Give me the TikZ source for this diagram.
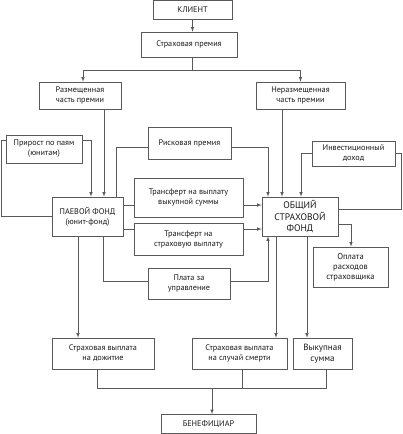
\documentclass[tikz,border=0pt]{standalone}
\usepackage{fontspec}
\setmainfont{PT Sans}

\begin{document}
\begin{tikzpicture}[x=1pt, y=-1pt,
    box/.style={draw=black!65, line width=0.6pt, align=center, inner sep=1pt,
                font=\fontsize{8.2}{10}\selectfont, text=black!90},
    ln/.style={draw=black!65, line width=0.6pt},
    arr/.style={ln, -latex}]
    \useasboundingbox (0,0) rectangle (402,434);
    % Client and premium
    \node[box, minimum width=79pt, minimum height=19pt] (client) at (192.5,9.5) {КЛИЕНТ};
    \node[box, minimum width=96pt, minimum height=25pt] (prem) at (189,44.5) {Страховая премия};
    \node[box, minimum width=82pt, minimum height=27pt] (rasm) at (80,95.5) {Размещенная\\часть премии};
    \node[box, minimum width=89pt, minimum height=27pt] (nerasm) at (300.5,95.5) {Неразмещенная\\часть премии};
    % Funds and flows between them
    \node[box, minimum width=76pt, minimum height=28pt] (prirost) at (44,149) {Прирост по паям\\(юнитам)};
    \node[box, minimum width=83pt, minimum height=32pt] (risk) at (189.5,143) {Рисковая премия};
    \node[box, minimum width=83pt, minimum height=25pt] (invest) at (353.5,153.5) {Инвестиционный\\доход};
    \node[box, minimum width=71pt, minimum height=39pt] (paev) at (87.5,216.5) {ПАЕВОЙ ФОНД\\(юнит-фонд)};
    \node[box, minimum width=76pt, minimum height=39pt, font=\fontsize{9.5}{11.5}\selectfont] (obsh) at (300,216.5) {ОБЩИЙ\\СТРАХОВОЙ\\ФОНД};
    \node[box, minimum width=109pt, minimum height=39pt] (trans1) at (188.5,197.5) {Трансферт на выплату\\выкупной суммы};
    \node[box, minimum width=109pt, minimum height=32pt] (trans2) at (188.5,239) {Трансферт на\\страховую выплату};
    \node[box, minimum width=82pt, minimum height=31pt] (plata) at (189,283.5) {Плата за\\управление};
    \node[box, minimum width=75pt, minimum height=40pt, font=\fontsize{8.5}{10}\selectfont] (oplata) at (350.5,267) {Оплата\\расходов\\страховщика};
    % Payments
    \node[box, minimum width=102pt, minimum height=31pt] (dozh) at (103,353.5) {Страховая выплата\\на дожитие};
    \node[box, minimum width=95pt, minimum height=31pt] (smert) at (239.5,353.5) {Страховая выплата\\на случай смерти};
    \node[box, minimum width=59pt, minimum height=31pt, font=\fontsize{9}{10.5}\selectfont] (vykup) at (322.5,353.5) {Выкупная\\сумма};
    \node[box, minimum width=95pt, minimum height=19pt] (benef) at (208.5,424) {БЕНЕФИЦИАР};
    \coordinate (join) at (212,388);

    % Top part
    \draw[arr] (client.south) -- (client.south |- prem.north);
    \draw[arr] (192,0 |- prem.south) -- ++(0,13) -| (83,0 |- rasm.north);
    \draw[arr] (192,0 |- prem.south) -- ++(0,13) -| (nerasm.north);
    \draw[arr] (104,0 |- rasm.south) -- (104,0 |- paev.north);
    \draw[arr] (282,0 |- nerasm.south) -- (282,0 |- obsh.north);
    % Unit fund loop
    \draw[arr] (prirost.east |- 0,140) -| (91,0 |- paev.north);
    \draw[ln] (paev.west) -| (1,140) -- (prirost.west |- 0,140);
    % Risk premium
    \draw[ln] (116,0 |- paev.north) |- (risk.west |- 0,147);
    \draw[arr] (risk.east |- 0,147) -| (268,0 |- obsh.north);
    % Investment income loop
    \draw[arr] (invest.west) -| (301,0 |- obsh.north);
    \draw[ln] (obsh.east |- 0,209) -| (401,0 |- invest.east) -- (invest.east);
    % Transfers
    \draw[ln] (paev.east |- 0,205) -- (trans1.west |- 0,205);
    \draw[arr] (trans1.east |- 0,205) -- (obsh.west |- 0,205);
    \draw[ln] (paev.east |- 0,229) -- (trans2.west |- 0,229);
    \draw[arr] (trans2.east |- 0,229) -- (obsh.west |- 0,229);
    \draw[ln] (103,0 |- paev.south) |- (plata.west |- 0,281);
    \draw[arr] (plata.east |- 0,281) -| (268,0 |- obsh.south);
    \draw[arr] (obsh.east |- 0,224) -| (351,0 |- oplata.north);
    % Payments
    \draw[arr] (78,0 |- paev.south) -- (78,0 |- dozh.north);
    \draw[arr] (276,0 |- obsh.south) -- (276,0 |- smert.north);
    \draw[arr] (307,0 |- obsh.south) -- (307,0 |- vykup.north);
    \draw[ln] (97,0 |- dozh.south) |- (join);
    \draw[ln] (326,0 |- vykup.south) |- (join);
    \draw[ln] (242,0 |- smert.south) -- (242,0 |- join);
    \draw[arr] (join) -- (212,0 |- benef.north);
\end{tikzpicture}
\end{document}
